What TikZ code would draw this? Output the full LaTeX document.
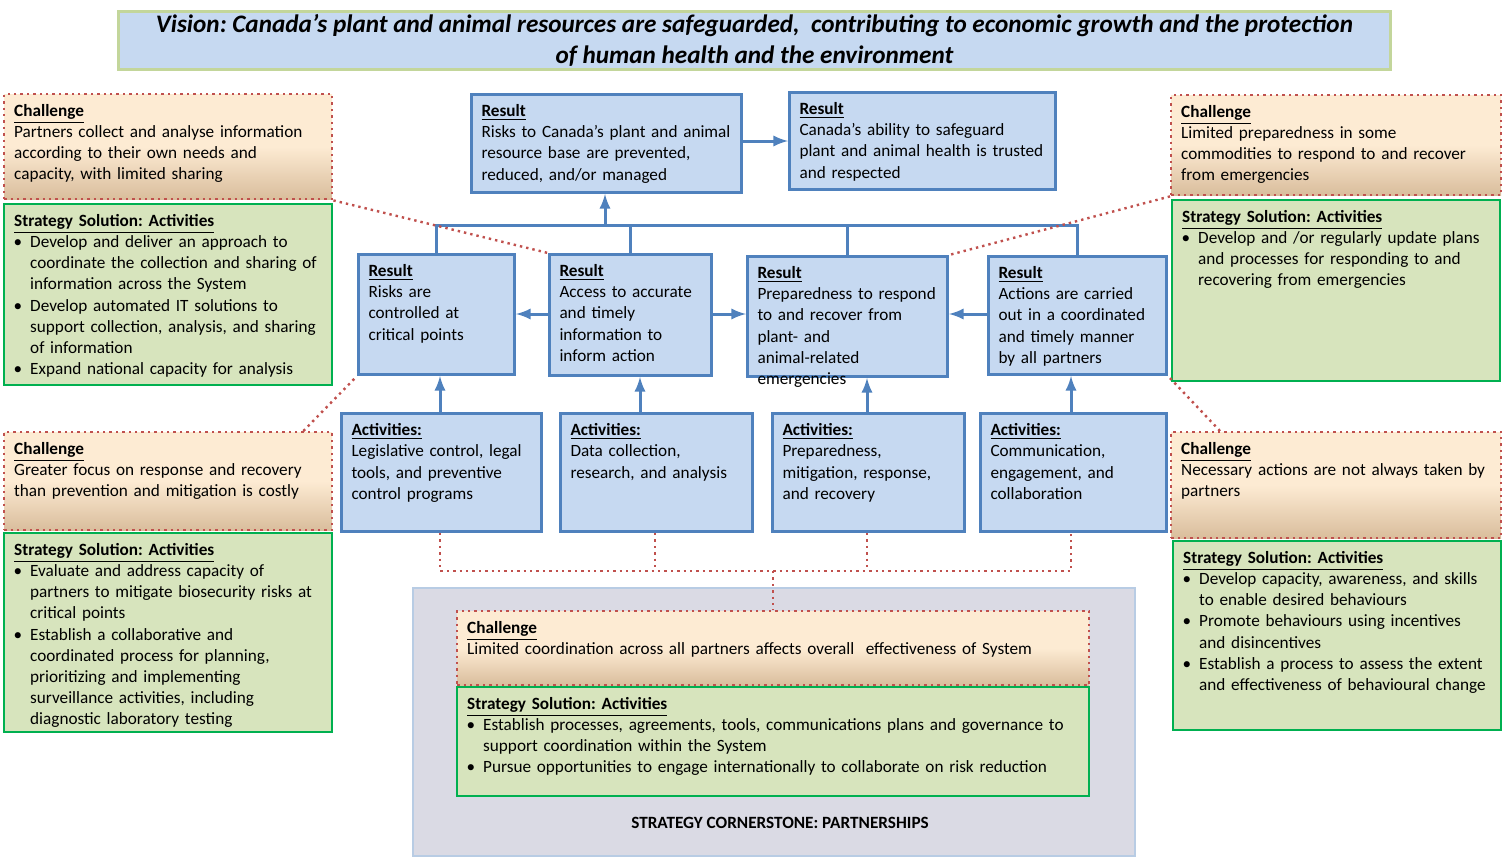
\documentclass[tikz,border=0pt]{standalone}
\usepackage{fontspec}
\setmainfont{Carlito}
\usepackage{enumitem}
\usetikzlibrary{positioning}
\definecolor{resfill}{HTML}{C6D9F1}
\definecolor{resline}{HTML}{4F81BD}
\definecolor{redline}{HTML}{C0504D}
\definecolor{solfill}{HTML}{D7E4BD}
\definecolor{solline}{HTML}{00B050}
\definecolor{chtop}{HTML}{FDEBD3}
\definecolor{chbot}{HTML}{D9BD9C}
\hyphenpenalty=10000
\frenchspacing
\newcommand{\hd}[1]{\underline{\textbf{#1}}}
\newcommand{\topbox}[2]{\begin{minipage}[t][#1][t]{\linewidth}\raggedright\frenchspacing#2\end{minipage}}
\newlist{bul}{itemize}{1}
\setlist[bul]{label=\textbullet,leftmargin=8pt,labelsep=4pt,nosep}
\tikzstyle{result}=[draw=resline, fill=resfill, line width=1.5pt, anchor=north west, align=left, inner sep=5pt]
\tikzstyle{challenge}=[draw=redline, dotted, line width=1.2pt, top color=chtop, bottom color=chbot, middle color=chtop, anchor=north west, inner sep=5pt]
\tikzstyle{solution}=[draw=solline, fill=solfill, line width=1.2pt, anchor=north west, inner sep=5pt]
\tikzstyle{up}=[resline, line width=1.5pt, -latex]
\tikzstyle{link}=[redline, dotted, line width=1.2pt]
\begin{document}
\begin{tikzpicture}[x=0.5pt, y=-0.5pt, font=\fontsize{8.6}{10.6}\selectfont]
\useasboundingbox (0,0) rectangle (1503,863);
% vision
\node[draw={rgb,255:red,195;green,214;blue,155}, fill=resfill, line width=1.5pt, minimum width=636pt, minimum height=29pt, anchor=north west, align=center, inner sep=1pt, font=\fontsize{12.6}{15.5}\selectfont\bfseries\itshape] (vision) at (117,10)
  {Vision: Canada’s plant and animal resources are safeguarded, \ contributing to economic growth and the protection\\of human health and the environment};

% cornerstone
\node[draw={rgb,255:red,184;green,204;blue,228}, fill={rgb,255:red,218;green,218;blue,228}, line width=1.2pt, minimum width=361pt, minimum height=134pt, anchor=north west] (corner) at (412,587) {};
\node[font=\fontsize{8.6}{10}\selectfont\bfseries] (cornertxt) at (780,823) {STRATEGY CORNERSTONE: PARTNERSHIPS};

% top results
\node[result, text width=125pt] (r1) at (470,93)
  {\topbox{39pt}{\hd{Result}\\Risks to Canada’s plant and animal resource base are prevented, reduced, and/or managed}};
\node[result, text width=123pt] (r2) at (788,91)
  {\topbox{38.5pt}{\hd{Result}\\Canada’s ability to safeguard plant and animal health is trusted and respected}};

% middle results
\node[result, text width=68pt] (m1) at (357,253)
  {\topbox{50pt}{\hd{Result}\\Risks are controlled at critical points}};
\node[result, text width=71pt] (m2) at (548,253)
  {\topbox{50.5pt}{\hd{Result}\\Access to accurate and timely information to inform action}};
\node[result, text width=90pt] (m3) at (746,255)
  {\topbox{50pt}{\hd{Result}\\Preparedness to respond to and recover from plant- and animal-related emergencies}};
\node[result, text width=79pt] (m4) at (987,255)
  {\topbox{49pt}{\hd{Result}\\Actions are carried out in a coordinated and timely manner by all partners}};

% activities
\node[result, text width=90pt] (a1) at (340,412)
  {\topbox{49pt}{\hd{Activities:}\\Legislative control, legal tools, and preventive control programs}};
\node[result, text width=86pt] (a2) at (559,412)
  {\topbox{49pt}{\hd{Activities:}\\Data collection, research, and analysis}};
\node[result, text width=86pt] (a3) at (771,412)
  {\topbox{49pt}{\hd{Activities:}\\Preparedness, mitigation, response, and recovery}};
\node[result, text width=83pt] (a4) at (979,412)
  {\topbox{49pt}{\hd{Activities:}\\Communication, engagement, and collaboration}};

% challenges and solutions, left
\node[challenge, text width=154pt] (c1) at (3,93)
  {\topbox{42.5pt}{\hd{Challenge}\\Partners collect and analyse information according to their own needs and capacity, with limited sharing}};
\node[solution, text width=154pt] (s1) at (3,203)
  {\topbox{80.5pt}{\hd{Strategy Solution: Activities}
  \begin{bul}
  \item Develop and deliver an approach to coordinate the collection and sharing of information across the System
  \item Develop automated IT solutions to support collection, analysis, and sharing of information
  \item Expand national capacity for analysis
  \end{bul}}};
\node[challenge, text width=154pt] (c2) at (3,431)
  {\topbox{39pt}{\hd{Challenge}\\Greater focus on response and recovery than prevention and mitigation is costly}};
\node[solution, text width=154pt] (s2) at (3,532)
  {\topbox{89.5pt}{\hd{Strategy Solution: Activities}
  \begin{bul}
  \item Evaluate and address capacity of partners to mitigate biosecurity risks at critical points
  \item Establish a collaborative and coordinated process for planning, prioritizing and implementing surveillance activities, including diagnostic laboratory testing
  \end{bul}}};

% challenges and solutions, right
\node[challenge, text width=155pt] (c3) at (1170,94)
  {\topbox{40pt}{\hd{Challenge}\\Limited preparedness in some commodities to respond to and recover from emergencies}};
\node[solution, text width=154pt] (s3) at (1171,199)
  {\topbox{80.5pt}{\hd{Strategy Solution: Activities}
  \begin{bul}
  \item Develop and /or regularly update plans and processes for responding to and recovering from emergencies
  \end{bul}}};
\node[challenge, text width=155pt] (c4) at (1170,431)
  {\topbox{43pt}{\hd{Challenge}\\Necessary actions are not always taken by partners}};
\node[solution, text width=154pt] (s4) at (1172,540)
  {\topbox{84.5pt}{\hd{Strategy Solution: Activities}
  \begin{bul}
  \item Develop capacity, awareness, and skills to enable desired behaviours
  \item Promote behaviours using incentives and disincentives
  \item Establish a process to assess the extent and effectiveness of behavioural change
  \end{bul}}};

% cornerstone challenge and solution
\node[challenge, text width=306pt] (c5) at (456,610)
  {\topbox{27pt}{\hd{Challenge}\\Limited coordination across all partners affects overall \ effectiveness of System}};
\node[solution, text width=306pt] (s5) at (456,686)
  {\topbox{44.5pt}{\hd{Strategy Solution: Activities}
  \begin{bul}
  \item Establish processes, agreements, tools, communications plans and governance to support coordination within the System
  \item Pursue opportunities to engage internationally to collaborate on risk reduction
  \end{bul}}};

% result connectors
\coordinate (hub) at (605,225);
\draw[resline, line width=1.5pt] (m1.north) |- (hub) -| (m4.north);
\draw[resline, line width=1.5pt] (m2.north) |- (hub);
\draw[resline, line width=1.5pt] (m3.north) |- (hub);
\draw[up] (hub) -- (hub |- r1.south);
\draw[up] (r1.east |- 0,141) -- (r2.west |- 0,141);
\draw[up] (m2.west |- 0,314) -- (m1.east |- 0,314);
\draw[up] (m2.east |- 0,314) -- (m3.west |- 0,314);
\draw[up] (m4.west |- 0,314) -- (m3.east |- 0,314);
\draw[up] (a1.north -| 440,0) -- (m1.south -| 440,0);
\draw[up] (a2.north -| 640,0) -- (m2.south -| 640,0);
\draw[up] (a3.north -| 867,0) -- (m3.south -| 867,0);
\draw[up] (a4.north -| 1071,0) -- (m4.south -| 1071,0);

% dotted links
\coordinate (joint) at (773,571);
\draw[link] (a1.south -| 440,0) |- (joint) -| (a4.south -| 1071,0);
\draw[link] (a2.south -| 655,0) -- (655,571);
\draw[link] (a3.south -| 867,0) -- (867,571);
\draw[link] (joint) -- (c5.north -| joint);
\draw[link] (c1.south east) -- (m2.north west);
\draw[link] (c2.north east) ++(-30,0) -- (m1.south west);
\draw[link] (c3.south west) -- (m3.north east);
\draw[link] (c4.north west) ++(50,0) -- (m4.south east);
\end{tikzpicture}
\end{document}
